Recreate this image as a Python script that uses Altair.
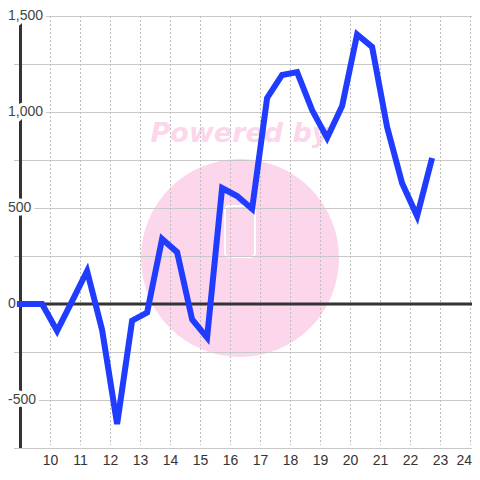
import altair as alt
import pandas as pd

# --- data ---
xs = [8.88, 9.72, 10.22, 10.72, 11.22, 11.72, 12.22, 12.72, 13.22, 13.72, 14.22, 14.72, 15.22,
      15.72, 16.22, 16.72, 17.22, 17.72, 18.22, 18.72, 19.22, 19.72, 20.22, 20.72, 21.22, 21.72,
      22.22, 22.72]
ys = [0, 0, -140, 15, 172, -135, -625, -87, -45, 339, 270, -80, -175,
      604, 562, 495, 1073, 1193, 1208, 1010, 865, 1031, 1404, 1339, 922,
      629, 458, 760]
y_grid = [-750, -500, -250, 0, 250, 500, 750, 1000, 1250, 1500]
x_ticks = [10, 11, 12, 13, 14, 15, 16, 17, 18, 19, 20, 21, 22, 23, 24]
x_tick_text = [str(v) for v in x_ticks]
y_label_vals = [-500, 0, 500, 1000, 1500]
y_label_text = ["-500", "0", "500", "1,000", "1,500"]

X_DOMAIN = [8.7833, 24.05]
Y_DOMAIN = [-750, 1500]
W, H = 458, 432
BG = "#ffffff"

line_df = pd.DataFrame({"x": xs, "y": ys})
ygrid_df = pd.DataFrame({"y": y_grid})
xgrid_df = pd.DataFrame({"x": x_ticks, "t": x_tick_text})
xlab_main = xgrid_df[xgrid_df["x"] < 24]
xlab_last = xgrid_df[xgrid_df["x"] >= 24]
lab_df = pd.DataFrame({"y": y_label_vals, "t": y_label_text})

xs_scale = alt.Scale(domain=X_DOMAIN, nice=False, zero=False)
ys_scale = alt.Scale(domain=Y_DOMAIN, nice=False, zero=False)


def X(f="x"):
    return alt.X(f"{f}:Q", scale=xs_scale, axis=None)


def Y(f="y"):
    return alt.Y(f"{f}:Q", scale=ys_scale, axis=None)


one = pd.DataFrame({"a": [0]})

# watermark
wm_circle = alt.Chart(one).mark_circle(
    color="#fcd6ea", opacity=1, size=39204
).encode(x=alt.value(226), y=alt.value(242))
wm_icon = alt.Chart(one).mark_rect(
    fill=None, stroke="white", strokeWidth=2, cornerRadius=4
).encode(x=alt.value(211), x2=alt.value(241), y=alt.value(190), y2=alt.value(241))
wm_text = alt.Chart(pd.DataFrame({"t": ["Powered by"]})).mark_text(
    font="DejaVu Sans", fontSize=27, fontWeight="bold", fontStyle="italic",
    color="#fcd6ea", align="center", baseline="middle"
).encode(x=alt.value(226), y=alt.value(118), text="t:N")

# gridlines
hgrid = alt.Chart(ygrid_df).mark_rule(color="#c8c8c8", strokeWidth=1, yOffset=0.5).encode(
    y=Y(), x=alt.value(0), x2=alt.value(W)
)
vgrid = alt.Chart(xgrid_df).mark_rule(color="#bdbdbd", strokeWidth=1, strokeDash=[2, 2]).encode(
    x=X(), y=alt.value(0), y2=alt.value(H - 3)
)
xlabels = alt.Chart(xlab_main).mark_text(
    fontSize=14, font="Liberation Sans", color="#333333", align="center", baseline="middle"
).encode(x=X(), y=alt.value(H + 13), text="t:N")
xlabel_last = alt.Chart(xlab_last).mark_text(
    fontSize=14, font="Liberation Sans", color="#333333", align="right", baseline="middle"
).encode(x=alt.value(W), y=alt.value(H + 13), text="t:N")

# axis line and zero line
axis_line = alt.Chart(pd.DataFrame({"x": [9], "y1": [Y_DOMAIN[0]], "y2": [Y_DOMAIN[1]]})).mark_rule(
    color="#333333", strokeWidth=3
).encode(x=X(), y=Y("y1"), y2="y2:Q")
zero_line = alt.Chart(pd.DataFrame({"y": [0]})).mark_rule(color="#333333", strokeWidth=3).encode(
    y=Y(), x=alt.value(6), x2=alt.value(W)
)

# y labels with background halo
ylab_halo = alt.Chart(lab_df).mark_text(
    align="left", baseline="middle", fontSize=14, font="Liberation Sans",
    stroke=BG, strokeWidth=7, strokeJoin="round", color=BG
).encode(x=alt.value(-6), y=Y(), text="t:N")
ylab = alt.Chart(lab_df).mark_text(
    align="left", baseline="middle", fontSize=14, font="Liberation Sans", color="#444444"
).encode(x=alt.value(-6), y=Y(), text="t:N")

series = alt.Chart(line_df).mark_line(color="#1f3cff", strokeWidth=6, clip=True).encode(
    x=X(), y=Y()
)

chart = alt.layer(
    wm_circle, wm_text, wm_icon, hgrid, vgrid, xlabels, xlabel_last, axis_line, zero_line,
    ylab_halo, ylab, series
).properties(
    width=W, height=H,
    autosize=alt.AutoSizeParams(type="none"),
    padding={"left": 6, "top": 8, "right": 0, "bottom": 22},
    background=BG
).configure_view(stroke=None)

chart.save("out.html", embed_options={"renderer": "svg", "actions": False})
